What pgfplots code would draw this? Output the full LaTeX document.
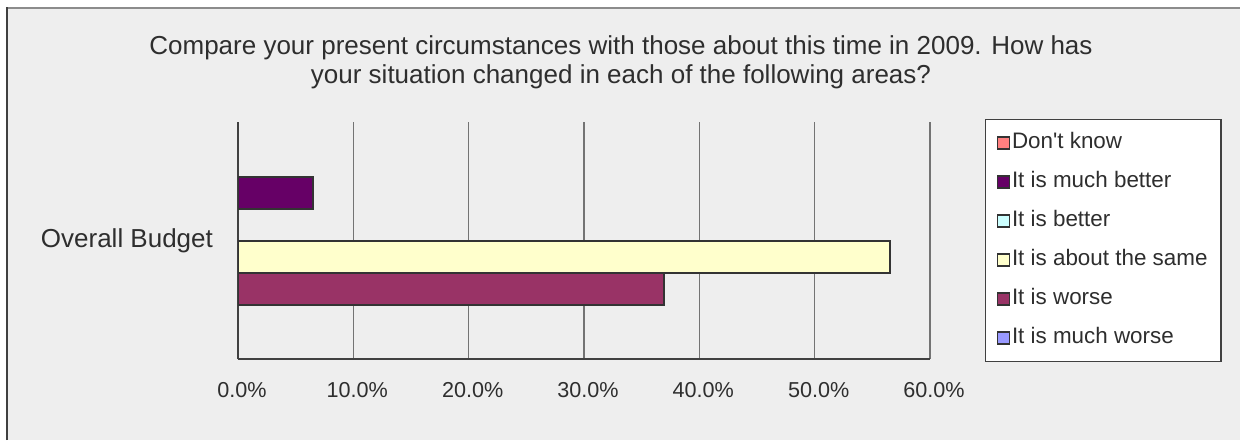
\documentclass[border=0pt]{standalone}
\usepackage{pgfplots}
\pgfplotsset{compat=1.18}
\usepackage{fontspec}
\setmainfont{Liberation Sans}
\definecolor{bg}{HTML}{EEEEEE}
\definecolor{dk}{HTML}{FF8080}
\definecolor{mb}{HTML}{660066}
\definecolor{bt}{HTML}{CCFFFF}
\definecolor{sm}{HTML}{FFFFCC}
\definecolor{wo}{HTML}{993366}
\definecolor{mw}{HTML}{9999FF}
\definecolor{txt}{HTML}{2E2E2E}
\pgfplotsset{legimg/.style={legend image code/.code={\draw[##1, line width=0.7pt] (0pt,-3pt) rectangle (6pt,3pt);}}}
\begin{document}
\begin{tikzpicture}
\useasboundingbox (0,0) rectangle (620pt,220pt);
\fill[bg] (3.5pt,0) rectangle (620pt,216pt);
\draw[black!45, line width=0.8pt] (3.5pt,216pt) -- (620pt,216pt);
\draw[black!75, line width=0.9pt] (3.5pt,0) -- (3.5pt,216.4pt);
\node[align=center, font=\fontsize{13}{14.5}\selectfont, text=txt] at (310.5pt,189pt)
  {Compare your present circumstances with those about this time in 2009. How has\\your situation changed in each of the following areas?};
\begin{axis}[
  at={(119pt,40.5pt)}, anchor=south west,
  scale only axis, width=346pt, height=118.5pt,
  xbar, bar width=16pt,
  xmin=0, xmax=60, ymin=-1, ymax=1,
  xtick={0,10,20,30,40,50,60},
  /pgf/number format/assume math mode=true,
  xticklabel={\pgfmathprintnumber[fixed,fixed zerofill,precision=1]{\tick}\%},
  ytick={0}, yticklabels={Overall Budget},
  major tick length=0pt,
  axis x line*=bottom, axis y line*=left,
  axis line style={black!75, line width=0.7pt, -},
  xmajorgrids, major grid style={black!55, line width=0.6pt},
  tick label style={text=txt},
  xticklabel style={font=\fontsize{10.8}{12}\selectfont, yshift=-8pt, xshift=2pt},
  yticklabel style={font=\fontsize{13}{14}\selectfont, xshift=-9pt},
  legend cell align=left,
  legend style={at={(1.0795,1.0127)}, anchor=north west,
    font=\fontsize{11.2}{13}\selectfont, text=txt,
    draw=black!75, fill=white, line width=0.6pt,
    nodes={text height=8pt, text depth=2.5pt, inner sep=1pt},
    row sep=7pt, inner xsep=5.5pt, inner ysep=5.5pt,
    /tikz/every even column/.append style={column sep=0.5pt}},
]
\addlegendimage{legimg, fill=dk, draw=black!80}
\addlegendentry{\makebox[98pt][l]{Don\textquotesingle t know}}
\addplot[legimg, fill=mb, draw=black!80, line width=1pt, bar shift=24pt] coordinates {(6.5,0)};
\addlegendentry{\makebox[98pt][l]{It is much better}}
\addlegendimage{legimg, fill=bt, draw=black!80}
\addlegendentry{\makebox[98pt][l]{It is better}}
\addplot[legimg, fill=sm, draw=black!80, line width=1pt, bar shift=-8pt] coordinates {(56.5,0)};
\addlegendentry{\makebox[98pt][l]{It is about the same}}
\addplot[legimg, fill=wo, draw=black!80, line width=1pt, bar shift=-24pt] coordinates {(36.9,0)};
\addlegendentry{\makebox[98pt][l]{It is worse}}
\addlegendimage{legimg, fill=mw, draw=black!80}
\addlegendentry{\makebox[98pt][l]{It is much worse}}
\end{axis}
\end{tikzpicture}
\end{document}
